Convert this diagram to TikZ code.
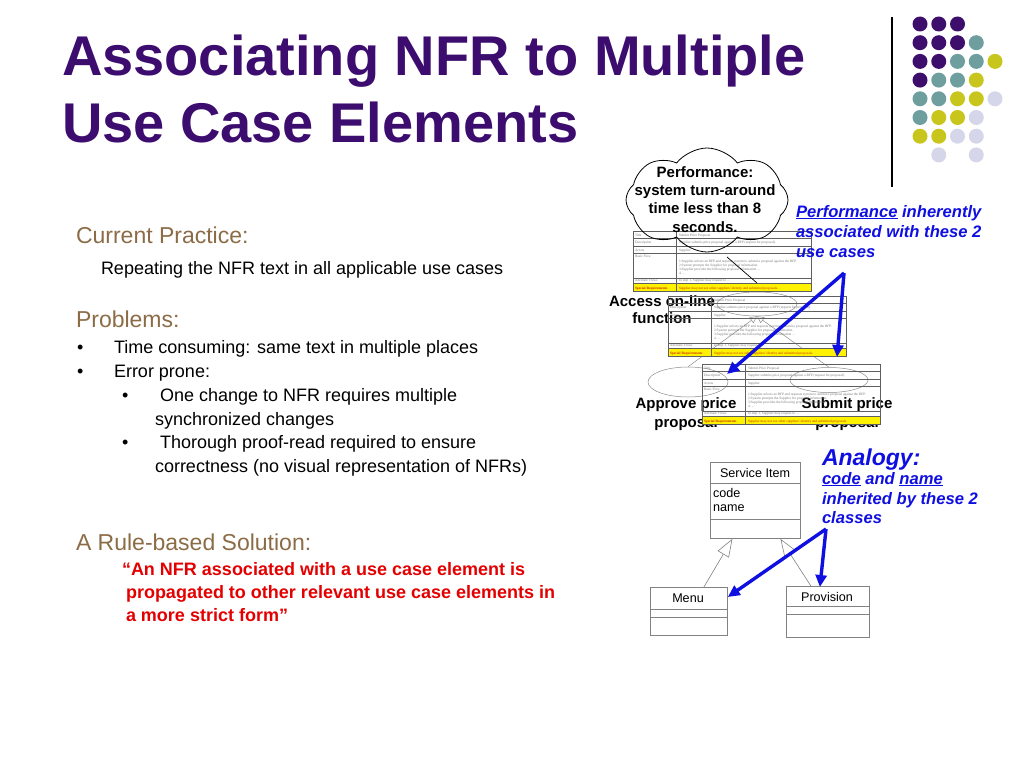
\documentclass[tikz,border=0pt]{standalone}
\usepackage{fontspec}
\setmainfont{Liberation Sans}
\newfontfamily\tabfont{Liberation Serif}
\usetikzlibrary{shapes.symbols,shapes.geometric,arrows.meta,calc}
\definecolor{titlepurple}{RGB}{60,12,110}
\definecolor{brownhead}{RGB}{140,108,70}
\definecolor{rulered}{RGB}{228,0,0}
\definecolor{noteblue}{RGB}{15,15,225}
\definecolor{dotpurple}{RGB}{62,14,108}
\definecolor{dotteal}{RGB}{110,158,158}
\definecolor{dotyellow}{RGB}{200,198,28}
\definecolor{dotlav}{RGB}{214,214,234}
\definecolor{tabline}{RGB}{95,95,95}
\definecolor{tabtext}{RGB}{120,120,120}
\definecolor{classgray}{RGB}{130,130,130}
\definecolor{ucgray}{RGB}{140,140,140}
\definecolor{reqred}{RGB}{200,40,0}
\tikzset{
  txt/.style={anchor=base west, inner sep=0, outer sep=0},
  ctxt/.style={anchor=base, inner sep=0, outer sep=0},
  headtxt/.style={txt, text=brownhead, font=\fontsize{23}{27}\selectfont},
  bodytxt/.style={txt, font=\fontsize{18}{22}\selectfont},
  redtxt/.style={txt, text=rulered, font=\fontsize{18}{22}\selectfont\bfseries},
  bluetxt/.style={txt, text=noteblue, font=\fontsize{16.6}{20}\selectfont\bfseries\itshape},
  blacklbl/.style={ctxt, font=\fontsize{15}{18}\selectfont\bfseries},
  tt/.style={anchor=base west, inner sep=0, outer sep=0, text=tabtext, font=\tabfont\fontsize{3.5}{4}\selectfont},
  ucell/.style={ellipse, draw=ucgray, line width=0.5, inner sep=0},
  genline/.style={draw=ucgray, line width=0.5, -{Triangle[open,length=7pt,width=7pt]}},
  classbox/.style={rectangle, draw=classgray, line width=0.8, inner sep=0, anchor=north west},
  classline/.style={draw=classgray, line width=0.8},
  clsgen/.style={draw=classgray, line width=0.6, -{Triangle[open,length=18pt,width=13pt]}},
  bluearrow/.style={draw=noteblue, line width=3.4, -{Triangle[length=12pt,width=11pt]}},
  classtxt/.style={inner sep=0, outer sep=0, font=\fontsize{12.6}{15}\selectfont}
}
\newcommand\ucTable[3]{%
  \begin{scope}[shift={(#1,#2)}]
    \fill[yellow] (0,52) rectangle (178,60);
    \draw[tabline, line width=0.6] (0,0) rectangle (178,60);
    \foreach \yy in {7,15,22,47,52} \draw[tabline, line width=0.4] (0,\yy) -- (178,\yy);
    \draw[tabline, line width=0.4] (43,0) -- (43,60);
    \node[tt] (#3a) at (2,5) {Title};
    \node[tt] (#3b) at (46,5) {Submit Price Proposal};
    \node[tt] (#3c) at (2,12.5) {Description};
    \node[tt] (#3d) at (46,12.5) {Supplier submits price proposal against a RFP (request for proposal).};
    \node[tt] (#3e) at (2,20) {Actors};
    \node[tt] (#3f) at (46,20) {Supplier};
    \node[tt] (#3g) at (2,26) {Basic Flow};
    \node[tt] (#3h) at (46,31) {1.Supplier selects an RFP and requests system to submit a proposal against the RFP.};
    \node[tt] (#3i) at (46,35) {2.System prompts the Supplier for proposal information.};
    \node[tt] (#3j) at (46,39) {3.Supplier provides the following proposal information ...};
    \node[tt] (#3k) at (46,43) {4. ...};
    \node[tt] (#3l) at (2,50.5) {Alternate Flows};
    \node[tt] (#3m) at (46,50.5) {In step 1, Supplier may request to ...};
    \node[tt, text=reqred] (#3n) at (2,58) {\bfseries Special Requirements};
    \node[tt, text=reqred] (#3o) at (46,58) {Supplier may not see other suppliers' identity and submitted proposals.};
  \end{scope}%
}
\begin{document}
\begin{tikzpicture}[x=1pt,y=-1pt]
\useasboundingbox (0,0) rectangle (1024,768);
\fill[white] (0,0) rectangle (1024,768);

% title
\node[txt, text=titlepurple, font=\fontsize{56}{66}\selectfont\bfseries] (title1) at (62,75) {Associating NFR to Multiple};
\node[txt, text=titlepurple, font=\fontsize{56}{66}\selectfont\bfseries] (title2) at (62,142) {Use Case Elements};

% decoration dots
\draw[line width=1.3] (892,17) -- (892,187);
\foreach \c/\r/\col in {
  0/0/dotpurple,1/0/dotpurple,2/0/dotpurple,
  0/1/dotpurple,1/1/dotpurple,2/1/dotpurple,3/1/dotteal,
  0/2/dotpurple,1/2/dotpurple,2/2/dotteal,3/2/dotteal,4/2/dotyellow,
  0/3/dotpurple,1/3/dotteal,2/3/dotteal,3/3/dotyellow,
  0/4/dotteal,1/4/dotteal,2/4/dotyellow,3/4/dotyellow,4/4/dotlav,
  0/5/dotteal,1/5/dotyellow,2/5/dotyellow,3/5/dotlav,
  0/6/dotyellow,1/6/dotyellow,2/6/dotlav,3/6/dotlav,
  1/7/dotlav,3/7/dotlav}
  \fill[\col] ({920+18.75*\c},{24+18.7*\r}) circle (7.5);

% left text
\node[headtxt] (cp) at (76,243) {Current Practice:};
\node[bodytxt] (cpt) at (101,274) {Repeating the NFR text in all applicable use cases};
\node[headtxt] (pb) at (76,327) {Problems:};
\node[bodytxt] (b1) at (77,353) {•};
\node[bodytxt] (b1t) at (114,353) {Time consuming: same text in multiple places};
\node[bodytxt] (b2) at (77,377) {•};
\node[bodytxt] (b2t) at (114,377) {Error prone:};
\node[bodytxt] (b21) at (122,401) {•};
\node[bodytxt] (b21t) at (155,401) {\ One change to NFR requires multiple};
\node[bodytxt] (b21u) at (155,425) {synchronized changes};
\node[bodytxt] (b22) at (122,448) {•};
\node[bodytxt] (b22t) at (155,448) {\ Thorough proof-read required to ensure};
\node[bodytxt] (b22u) at (155,472) {correctness (no visual representation of NFRs)};
\node[headtxt] (rs) at (76,550) {A Rule-based Solution:};
\node[redtxt] (r1) at (122,575) {“An NFR associated with a use case element is};
\node[redtxt] (r2) at (126,598) {propagated to other relevant use case elements in};
\node[redtxt] (r3) at (126,621) {a more strict form”};

% use case ovals and labels
\node[ucell, minimum width=80, minimum height=24] (ucAccess) at (757,304) {};
\node[ucell, minimum width=80, minimum height=30] (ucApprove) at (688,382) {};
\node[ucell, minimum width=78, minimum height=25] (ucSubmit) at (829,380) {};
\draw[genline] (ucApprove.north) -- (ucAccess.south);
\draw[genline] (ucSubmit.north) -- (ucAccess.south);
\node[blacklbl] (lAccess1) at (662,306) {Access on-line};
\node[blacklbl] (lAccess2) at (662,323) {function};
\node[blacklbl] (lApprove1) at (686,408) {Approve price};
\node[blacklbl] (lApprove2) at (686,427) {proposal};
\node[blacklbl] (lSubmit1) at (847,408) {Submit price};
\node[blacklbl] (lSubmit2) at (847,427) {proposal};

% use case tables
\ucTable{633}{231}{ta}
\ucTable{668}{296}{tb}
\ucTable{702}{364}{tc}

% cloud
\node[cloud, draw, line width=0.8, cloud puffs=8, cloud puff arc=105, aspect=1.6, minimum width=162, minimum height=104, inner sep=0] (cloud) at (707,200) {};
\node[blacklbl] (cl1) at (705,177) {Performance:};
\node[blacklbl] (cl2) at (705,195) {system turn-around};
\node[blacklbl] (cl3) at (705,213) {time less than 8};
\node[blacklbl] (cl4) at (705,232) {seconds.};
\coordinate (cptr1) at (727,257);
\coordinate (cptr2) at (757,283);
\draw[line width=0.7] (cptr1) -- (cptr2);

% blue note on use cases
\node[bluetxt] (pf1) at (796,217) {\underline{Performance} inherently};
\node[bluetxt] (pf2) at (796,237) {associated with these 2};
\node[bluetxt] (pf3) at (796,257) {use cases};
\coordinate (ucsplit) at (844,273);
\coordinate (tgtApprove) at (727,374);
\coordinate (tgtSubmit) at (837,357);
\draw[bluearrow] (ucsplit) -- (tgtApprove);
\draw[bluearrow] (ucsplit) -- (tgtSubmit);

% class diagram
\node[classbox, minimum width=90, minimum height=76] (svc) at (710,462) {};
\draw[classline] (710,483) -- (800,483);
\draw[classline] (710,519) -- (800,519);
\node[classtxt, anchor=base] (svcName) at (755,477) {Service Item};
\node[classtxt, anchor=base west] (svcCode) at (713,497) {code};
\node[classtxt, anchor=base west] (svcNm) at (713,511) {name};

\node[classbox, minimum width=77, minimum height=48] (menu) at (650,587) {};
\draw[classline] (650,609) -- (727,609);
\draw[classline] (650,617) -- (727,617);
\node[classtxt, anchor=base] (menuName) at (688,602) {Menu};

\node[classbox, minimum width=83, minimum height=51] (prov) at (786,586) {};
\draw[classline] (786,606) -- (869,606);
\draw[classline] (786,614) -- (869,614);
\node[classtxt, anchor=base] (provName) at (827,601) {Provision};

\draw[clsgen] ($(menu.north)+(15,0)$) -- ($(svc.south)+(-23,0)$);
\draw[clsgen] ($(prov.north)+(-17,0)$) -- ($(svc.south)+(25,0)$);

\node[bluetxt, font=\fontsize{23}{27}\selectfont\bfseries\itshape] (an1) at (822,465) {Analogy:};
\node[bluetxt] (an2) at (822,484) {\underline{code} and \underline{name}};
\node[bluetxt] (an3) at (822,504) {inherited by these 2};
\node[bluetxt] (an4) at (822,523) {classes};
\coordinate (clsplit) at (826,529);
\draw[bluearrow] (clsplit) -- ($(menu.north east)+(0,10)$);
\draw[bluearrow] (clsplit) -- ($(prov.north)+(-8,1)$);
\end{tikzpicture}
\end{document}
